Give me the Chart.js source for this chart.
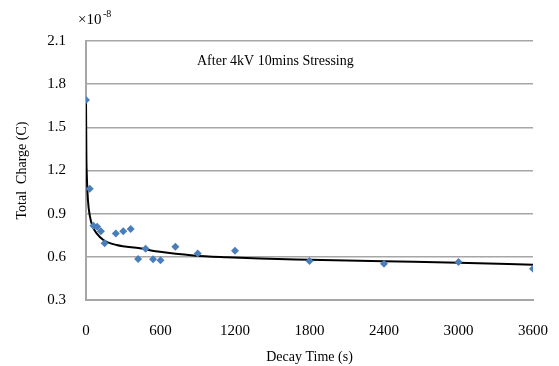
<!DOCTYPE html>
<html>
<head>
<meta charset="utf-8">
<script src="https://cdn.jsdelivr.net/npm/chart.js@4.4.0/dist/chart.umd.min.js"></script>
<style>
  html, body { margin: 0; padding: 0; background: #fff; }
  #wrap { width: 559px; height: 366px; }
</style>
</head>
<body>
<div id="wrap"><canvas id="c"></canvas></div>
<script>
// measured points (time s, charge x1e-8 C)
const decayTimes = [0, 30, 60, 90, 120, 150, 240, 300, 360, 420, 480, 540, 600, 720, 900, 1200, 1800, 2400, 3000, 3600];
const chargeValues = [1.69, 1.073, 0.816, 0.809, 0.777, 0.694, 0.763, 0.777, 0.793, 0.585, 0.656, 0.583, 0.576, 0.670, 0.624, 0.642, 0.571, 0.552, 0.564, 0.517];

// fitted curve
const fitTimes = [0, 3, 6, 16, 32, 54, 86, 140, 247, 435, 596, 864, 1133, 1400, 1800, 2400, 3000, 3600];
const fitValues = [1.69, 1.30, 1.18, 0.99, 0.88, 0.81, 0.763, 0.717, 0.682, 0.659, 0.635, 0.61, 0.597, 0.588, 0.58, 0.569, 0.559, 0.545];

const xTicks = [0, 600, 1200, 1800, 2400, 3000, 3600];
const yTicks = [0.3, 0.6, 0.9, 1.2, 1.5, 1.8, 2.1];

const FONT = '"Liberation Serif", "Times New Roman", serif';
const GRID = '#a6a6a6';

const measured = decayTimes.map((t, i) => ({ x: t, y: chargeValues[i] }));
const fitted = fitTimes.map((t, i) => ({ x: t, y: fitValues[i] }));

// extra text: exponent label + annotation
const textPlugin = {
    id: 'extraText',
    afterDraw(chart) {
        const ctx = chart.ctx;
        ctx.save();
        ctx.fillStyle = '#000';
        ctx.textBaseline = 'alphabetic';
        ctx.font = '15px ' + FONT;
        ctx.fillText('\u00d710', 78, 24);
        ctx.font = '10px ' + FONT;
        ctx.fillText('-8', 103, 17);
        ctx.font = '14px ' + FONT;
        ctx.fillText('After 4kV 10mins Stressing', 197, 65);
        ctx.restore();
    }
};

new Chart(document.getElementById('c'), {
    type: 'scatter',
    data: {
        datasets: [
            {
                label: 'fit', type: 'line', data: fitted,
                borderColor: '#000', borderWidth: 2, pointRadius: 0,
                cubicInterpolationMode: 'monotone', fill: false, order: 2
            },
            {
                label: 'data', data: measured,
                pointStyle: 'rectRot', pointRadius: 4, pointHoverRadius: 4,
                backgroundColor: '#4a7ebb', borderColor: '#4a7ebb', borderWidth: 0, order: 1
            }
        ]
    },
    options: {
        responsive: true, maintainAspectRatio: false, animation: false,
        layout: { padding: { top: 41, right: 26, left: 0, bottom: 0 } },
        plugins: { legend: { display: false }, tooltip: { enabled: false } },
        scales: {
            x: {
                type: 'linear', min: 0, max: 3600,
                afterBuildTicks: (ax) => { ax.ticks = xTicks.map(v => ({ value: v })); },
                afterFit: (ax) => { ax.height = 66; ax.paddingLeft = 0; ax.paddingRight = 0; },
                grid: { display: false, drawTicks: false },
                border: { display: true, color: GRID, width: 2 },
                ticks: { color: '#000', font: { family: FONT, size: 15 }, padding: 22, maxRotation: 0, callback: (v) => String(v) },
                title: { display: true, text: 'Decay Time (s)', color: '#000', font: { family: FONT, size: 14 }, padding: { top: 4, bottom: 0 } }
            },
            y: {
                min: 0.3, max: 2.1,
                afterBuildTicks: (ax) => { ax.ticks = yTicks.map(v => ({ value: v })); },
                afterFit: (ax) => { ax.width = 86; ax.paddingTop = 0; ax.paddingBottom = 0; },
                grid: { color: GRID, lineWidth: 1.5, drawTicks: false },
                border: { display: true, color: GRID, width: 2 },
                ticks: { color: '#000', font: { family: FONT, size: 15 }, padding: 20, callback: (v) => v.toFixed(1) },
                title: { display: true, text: 'Total  Charge (C)', color: '#000', font: { family: FONT, size: 14 }, padding: { top: 14, bottom: 0 } }
            }
        }
    },
    plugins: [textPlugin]
});
</script>
</body>
</html>
